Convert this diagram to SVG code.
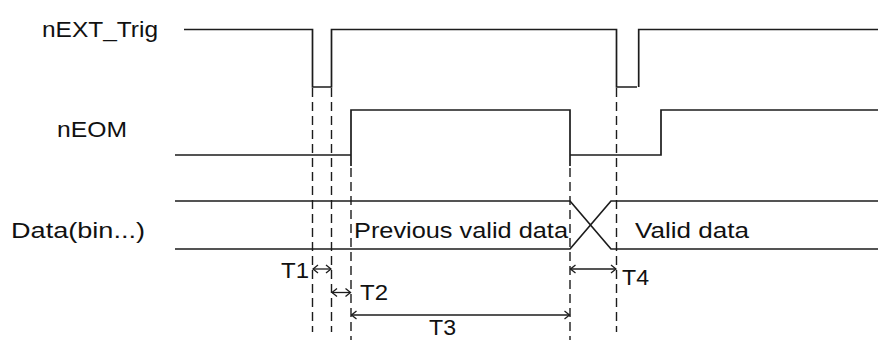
<svg xmlns="http://www.w3.org/2000/svg" width="878" height="340" viewBox="0 0 878 340">
  <style>
    .sig { fill: none; stroke: #1c1c1c; stroke-width: 1.7; }
    .dash { fill: none; stroke: #1c1c1c; stroke-width: 1.4; stroke-dasharray: 9 5; }
    .dim { fill: none; stroke: #1c1c1c; stroke-width: 1.3; }
    text { font-family: "Liberation Sans", Arial, sans-serif; font-size: 22px; fill: #111; }
  </style>
  <defs>
    <marker id="ah" viewBox="-6 -5 7 10" markerWidth="7" markerHeight="10" refX="0" refY="0" orient="auto-start-reverse" markerUnits="userSpaceOnUse">
      <path d="M-5,-4 L0,0 L-5,4" fill="none" stroke="#1c1c1c" stroke-width="1.3"/>
    </marker>
  </defs>
  <rect width="878" height="340" fill="#ffffff"/>

  <g id="nEXT_Trig">
    <text x="42" y="37" textLength="116" lengthAdjust="spacingAndGlyphs">nEXT_Trig</text>
    <path class="sig" d="M184,29.5 H312.5 V87 H331.5 V29.5 H616.5 V87 H637 M638.7,87 V29.5 H878"/>
  </g>

  <g id="nEOM">
    <text x="57" y="137" textLength="70" lengthAdjust="spacingAndGlyphs">nEOM</text>
    <path class="sig" d="M175,155 H351 M351,166 V110 H570 V166 M570,155 H661 V110 H878"/>
  </g>

  <g id="Data">
    <text x="11" y="238" textLength="134" lengthAdjust="spacingAndGlyphs">Data(bin...)</text>
    <path class="sig" d="M175,201 H570 L611,249 H878 M175,249 H570 L611,201 H878"/>
    <text x="354" y="238" textLength="214" lengthAdjust="spacingAndGlyphs">Previous valid data</text>
    <text x="635" y="238" textLength="114" lengthAdjust="spacingAndGlyphs">Valid data</text>
  </g>

  <g id="connectors">
    <line class="dash" x1="312.5" y1="88" x2="312.5" y2="332"/>
    <line class="dash" x1="331.5" y1="88" x2="331.5" y2="332"/>
    <line class="dash" x1="351" y1="168" x2="351" y2="340"/>
    <line class="dash" x1="570" y1="168" x2="570" y2="340"/>
    <line class="dash" x1="616.5" y1="88" x2="616.5" y2="332"/>

    <line class="dim" x1="313" y1="269" x2="331" y2="269" marker-start="url(#ah)" marker-end="url(#ah)"/>
    <line class="dim" x1="332" y1="292.5" x2="350.5" y2="292.5" marker-start="url(#ah)" marker-end="url(#ah)"/>
    <line class="dim" x1="351.5" y1="315" x2="569.5" y2="315" marker-start="url(#ah)" marker-end="url(#ah)"/>
    <line class="dim" x1="570.5" y1="269" x2="616" y2="269" marker-start="url(#ah)" marker-end="url(#ah)"/>
  </g>

  <g id="labels">
    <text x="281" y="278" textLength="28" lengthAdjust="spacingAndGlyphs">T1</text>
    <text x="360" y="300" textLength="28" lengthAdjust="spacingAndGlyphs">T2</text>
    <text x="429" y="335" textLength="27" lengthAdjust="spacingAndGlyphs">T3</text>
    <text x="622" y="285" textLength="27" lengthAdjust="spacingAndGlyphs">T4</text>
  </g>
</svg>
